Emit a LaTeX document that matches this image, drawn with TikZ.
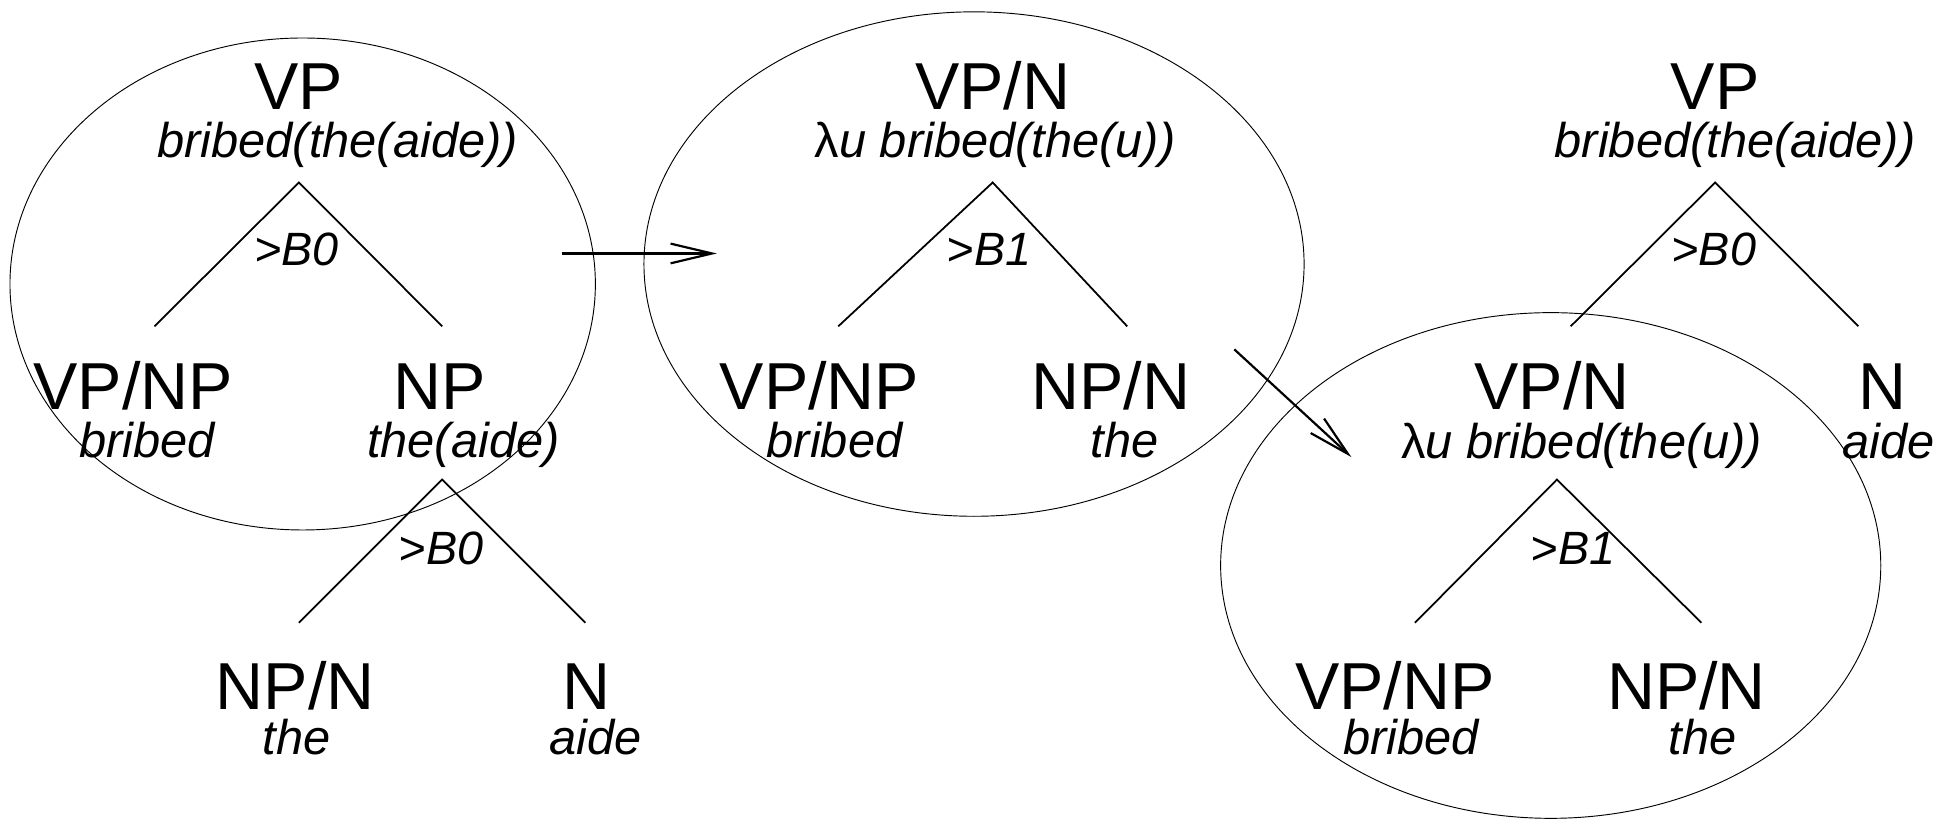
\documentclass[tikz,border=0pt]{standalone}
\usepackage{fontspec}
\setmainfont{Liberation Sans}
\usetikzlibrary{arrows.meta,shapes.geometric}
\begin{document}
\begin{tikzpicture}[x=0.6pt,y=-0.6pt,
  cat/.style={anchor=base,inner sep=0pt,font=\fontsize{32}{36}\selectfont},
  sem/.style={anchor=base,inner sep=0pt,font=\fontsize{23.5}{28}\selectfont\itshape},
  rule/.style={anchor=base,inner sep=0pt,font=\fontsize{22.5}{27}\selectfont\itshape},
  branch/.style={line width=0.85pt},
  bubble/.style={draw,ellipse,inner sep=0pt,line width=0.45pt},
  move/.style={line width=1.05pt,-{Straight Barb[length=20pt,width=9.5pt,line width=1.05pt]}}]
\useasboundingbox (0,0) rectangle (1568,658);

% ---- left tree: forward composition B0 twice
\node[cat] (l-vp) at (240,88) {VP};
\node[sem] (l-vps) at (271,126.5) {bribed(the(aide))};
\node[rule] (l-op) at (238,213) {>B0};
\node[cat] (l-v) at (107,329) {VP/NP};
\node[sem] (l-vs) at (118,367) {bribed};
\node[cat] (l-np) at (353,329) {NP};
\node[sem] (l-nps) at (372,367) {the(aide)};
\node[rule] (l-op2) at (354,453) {>B0};
\node[cat] (l-det) at (237,570) {NP/N};
\node[sem] (l-dets) at (238,606) {the};
\node[cat] (l-n) at (471,570) {N};
\node[sem] (l-ns) at (478,606) {aide};
\coordinate (l-top) at (240,146.5);
\coordinate (l-left) at (124,262);
\coordinate (l-right) at (355,262);
\coordinate (l-top2) at (355,385);
\coordinate (l-left2) at (240,500);
\coordinate (l-right2) at (470,500);
\draw[branch] (l-left) -- (l-top) -- (l-right);
\draw[branch] (l-left2) -- (l-top2) -- (l-right2);
\node[bubble,minimum width=282pt,minimum height=237pt] (l-ring) at (243,228) {};

% ---- middle tree: B1
\node[cat] (m-vpn) at (797,88) {VP/N};
\node[sem] (m-vpns) at (799,126.5) {\textup{λ}u bribed(the(u))};
\node[rule] (m-op) at (794,213) {>B1};
\node[cat] (m-v) at (658,329) {VP/NP};
\node[sem] (m-vs) at (670,367) {bribed};
\node[cat] (m-det) at (892,329) {NP/N};
\node[sem] (m-dets) at (903,367) {the};
\coordinate (m-top) at (797,146.5);
\coordinate (m-left) at (673,262);
\coordinate (m-right) at (905,262);
\draw[branch] (m-left) -- (m-top) -- (m-right);
\node[bubble,minimum width=318pt,minimum height=243pt] (m-ring) at (782,212) {};

% ---- right tree: B1 below, B0 above
\node[cat] (r-vp) at (1377,88) {VP};
\node[sem] (r-vps) at (1393,126.5) {bribed(the(aide))};
\node[rule] (r-op) at (1376,213) {>B0};
\node[cat] (r-vpn) at (1246,329) {VP/N};
\node[sem] (r-vpns) at (1270,368) {\textup{λ}u bribed(the(u))};
\node[cat] (r-n) at (1511,329) {N};
\node[sem] (r-ns) at (1516,368) {aide};
\node[rule] (r-op2) at (1263,453) {>B1};
\node[cat] (r-v) at (1120,570) {VP/NP};
\node[sem] (r-vs) at (1133,606) {bribed};
\node[cat] (r-det) at (1354,570) {NP/N};
\node[sem] (r-dets) at (1367,606) {the};
\coordinate (r-top) at (1377,146.5);
\coordinate (r-left) at (1261,262);
\coordinate (r-right) at (1492,262);
\coordinate (r-top2) at (1250,385);
\coordinate (r-left2) at (1136,500);
\coordinate (r-right2) at (1366,500);
\draw[branch] (r-left) -- (r-top) -- (r-right);
\draw[branch] (r-left2) -- (r-top2) -- (r-right2);
\node[bubble,minimum width=318pt,minimum height=243.6pt] (r-ring) at (1245,454) {};

% ---- rewriting steps
\coordinate (a1-from) at (451,203.5);
\coordinate (a1-to) at (575.5,203.5);
\coordinate (a2-from) at (991,280.5);
\coordinate (a2-to) at (1085,367);
\draw[move] (a1-from) -- (a1-to);
\draw[move] (a2-from) -- (a2-to);
\end{tikzpicture}
\end{document}
